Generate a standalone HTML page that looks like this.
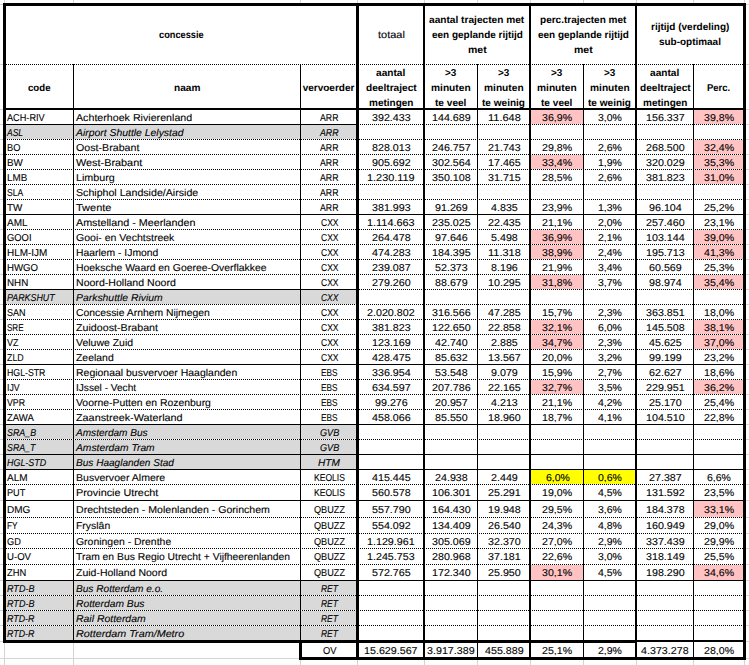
<!DOCTYPE html>
<html><head><meta charset="utf-8"><title>tabel</title>
<style>
html,body{margin:0;padding:0;background:#fff}
#p{position:relative;width:749px;height:665px;overflow:hidden;background:#fff;font-family:"Liberation Sans", sans-serif;color:#000}
#p div{position:absolute}
#p .hd{height:1px;background-image:repeating-linear-gradient(to right,#000 0,#000 1px,transparent 1px,transparent 2px)}
#p span{text-rendering:geometricPrecision;position:absolute;white-space:nowrap;line-height:15px;height:15px;transform-origin:0 50%;display:block}
.r{font-weight:400;-webkit-text-stroke:0.1px #000} .b{font-weight:700} .i{font-style:italic;-webkit-text-stroke:0.1px #000}
</style></head>
<body><div id="p">
<div style="left:4px;top:0px;width:1px;height:3px;background:#D4D4D4"></div>
<div style="left:4px;top:660px;width:1px;height:5px;background:#D4D4D4"></div>
<div style="left:73px;top:0px;width:1px;height:3px;background:#D4D4D4"></div>
<div style="left:73px;top:660px;width:1px;height:5px;background:#D4D4D4"></div>
<div style="left:300px;top:0px;width:1px;height:3px;background:#D4D4D4"></div>
<div style="left:300px;top:660px;width:1px;height:5px;background:#D4D4D4"></div>
<div style="left:357px;top:0px;width:1px;height:3px;background:#D4D4D4"></div>
<div style="left:357px;top:660px;width:1px;height:5px;background:#D4D4D4"></div>
<div style="left:424px;top:0px;width:1px;height:3px;background:#D4D4D4"></div>
<div style="left:424px;top:660px;width:1px;height:5px;background:#D4D4D4"></div>
<div style="left:477px;top:0px;width:1px;height:3px;background:#D4D4D4"></div>
<div style="left:477px;top:660px;width:1px;height:5px;background:#D4D4D4"></div>
<div style="left:530px;top:0px;width:1px;height:3px;background:#D4D4D4"></div>
<div style="left:530px;top:660px;width:1px;height:5px;background:#D4D4D4"></div>
<div style="left:583px;top:0px;width:1px;height:3px;background:#D4D4D4"></div>
<div style="left:583px;top:660px;width:1px;height:5px;background:#D4D4D4"></div>
<div style="left:636px;top:0px;width:1px;height:3px;background:#D4D4D4"></div>
<div style="left:636px;top:660px;width:1px;height:5px;background:#D4D4D4"></div>
<div style="left:693px;top:0px;width:1px;height:3px;background:#D4D4D4"></div>
<div style="left:693px;top:660px;width:1px;height:5px;background:#D4D4D4"></div>
<div style="left:744px;top:0px;width:1px;height:3px;background:#D4D4D4"></div>
<div style="left:744px;top:660px;width:1px;height:5px;background:#D4D4D4"></div>
<div style="left:4px;top:643px;width:1px;height:22px;background:#D4D4D4"></div>
<div style="left:73px;top:643px;width:1px;height:22px;background:#D4D4D4"></div>
<div style="left:0px;top:658px;width:299px;height:1px;background:#D4D4D4"></div>
<div style="left:746px;top:658px;width:3px;height:1px;background:#D4D4D4"></div>
<div style="left:0px;top:4px;width:3px;height:1px;background:#D4D4D4"></div>
<div style="left:746px;top:4px;width:3px;height:1px;background:#D4D4D4"></div>
<div style="left:0px;top:64px;width:3px;height:1px;background:#D4D4D4"></div>
<div style="left:746px;top:64px;width:3px;height:1px;background:#D4D4D4"></div>
<div style="left:0px;top:109px;width:3px;height:1px;background:#D4D4D4"></div>
<div style="left:746px;top:109px;width:3px;height:1px;background:#D4D4D4"></div>
<div style="left:0px;top:124px;width:3px;height:1px;background:#D4D4D4"></div>
<div style="left:746px;top:124px;width:3px;height:1px;background:#D4D4D4"></div>
<div style="left:0px;top:139px;width:3px;height:1px;background:#D4D4D4"></div>
<div style="left:746px;top:139px;width:3px;height:1px;background:#D4D4D4"></div>
<div style="left:0px;top:154px;width:3px;height:1px;background:#D4D4D4"></div>
<div style="left:746px;top:154px;width:3px;height:1px;background:#D4D4D4"></div>
<div style="left:0px;top:169px;width:3px;height:1px;background:#D4D4D4"></div>
<div style="left:746px;top:169px;width:3px;height:1px;background:#D4D4D4"></div>
<div style="left:0px;top:184px;width:3px;height:1px;background:#D4D4D4"></div>
<div style="left:746px;top:184px;width:3px;height:1px;background:#D4D4D4"></div>
<div style="left:0px;top:199px;width:3px;height:1px;background:#D4D4D4"></div>
<div style="left:746px;top:199px;width:3px;height:1px;background:#D4D4D4"></div>
<div style="left:0px;top:214px;width:3px;height:1px;background:#D4D4D4"></div>
<div style="left:746px;top:214px;width:3px;height:1px;background:#D4D4D4"></div>
<div style="left:0px;top:229px;width:3px;height:1px;background:#D4D4D4"></div>
<div style="left:746px;top:229px;width:3px;height:1px;background:#D4D4D4"></div>
<div style="left:0px;top:244px;width:3px;height:1px;background:#D4D4D4"></div>
<div style="left:746px;top:244px;width:3px;height:1px;background:#D4D4D4"></div>
<div style="left:0px;top:259px;width:3px;height:1px;background:#D4D4D4"></div>
<div style="left:746px;top:259px;width:3px;height:1px;background:#D4D4D4"></div>
<div style="left:0px;top:274px;width:3px;height:1px;background:#D4D4D4"></div>
<div style="left:746px;top:274px;width:3px;height:1px;background:#D4D4D4"></div>
<div style="left:0px;top:289px;width:3px;height:1px;background:#D4D4D4"></div>
<div style="left:746px;top:289px;width:3px;height:1px;background:#D4D4D4"></div>
<div style="left:0px;top:304px;width:3px;height:1px;background:#D4D4D4"></div>
<div style="left:746px;top:304px;width:3px;height:1px;background:#D4D4D4"></div>
<div style="left:0px;top:319px;width:3px;height:1px;background:#D4D4D4"></div>
<div style="left:746px;top:319px;width:3px;height:1px;background:#D4D4D4"></div>
<div style="left:0px;top:334px;width:3px;height:1px;background:#D4D4D4"></div>
<div style="left:746px;top:334px;width:3px;height:1px;background:#D4D4D4"></div>
<div style="left:0px;top:349px;width:3px;height:1px;background:#D4D4D4"></div>
<div style="left:746px;top:349px;width:3px;height:1px;background:#D4D4D4"></div>
<div style="left:0px;top:364px;width:3px;height:1px;background:#D4D4D4"></div>
<div style="left:746px;top:364px;width:3px;height:1px;background:#D4D4D4"></div>
<div style="left:0px;top:379px;width:3px;height:1px;background:#D4D4D4"></div>
<div style="left:746px;top:379px;width:3px;height:1px;background:#D4D4D4"></div>
<div style="left:0px;top:394px;width:3px;height:1px;background:#D4D4D4"></div>
<div style="left:746px;top:394px;width:3px;height:1px;background:#D4D4D4"></div>
<div style="left:0px;top:409px;width:3px;height:1px;background:#D4D4D4"></div>
<div style="left:746px;top:409px;width:3px;height:1px;background:#D4D4D4"></div>
<div style="left:0px;top:424px;width:3px;height:1px;background:#D4D4D4"></div>
<div style="left:746px;top:424px;width:3px;height:1px;background:#D4D4D4"></div>
<div style="left:0px;top:439px;width:3px;height:1px;background:#D4D4D4"></div>
<div style="left:746px;top:439px;width:3px;height:1px;background:#D4D4D4"></div>
<div style="left:0px;top:454px;width:3px;height:1px;background:#D4D4D4"></div>
<div style="left:746px;top:454px;width:3px;height:1px;background:#D4D4D4"></div>
<div style="left:0px;top:469px;width:3px;height:1px;background:#D4D4D4"></div>
<div style="left:746px;top:469px;width:3px;height:1px;background:#D4D4D4"></div>
<div style="left:0px;top:484px;width:3px;height:1px;background:#D4D4D4"></div>
<div style="left:746px;top:484px;width:3px;height:1px;background:#D4D4D4"></div>
<div style="left:0px;top:500px;width:3px;height:1px;background:#D4D4D4"></div>
<div style="left:746px;top:500px;width:3px;height:1px;background:#D4D4D4"></div>
<div style="left:0px;top:517px;width:3px;height:1px;background:#D4D4D4"></div>
<div style="left:746px;top:517px;width:3px;height:1px;background:#D4D4D4"></div>
<div style="left:0px;top:533px;width:3px;height:1px;background:#D4D4D4"></div>
<div style="left:746px;top:533px;width:3px;height:1px;background:#D4D4D4"></div>
<div style="left:0px;top:548px;width:3px;height:1px;background:#D4D4D4"></div>
<div style="left:746px;top:548px;width:3px;height:1px;background:#D4D4D4"></div>
<div style="left:0px;top:564px;width:3px;height:1px;background:#D4D4D4"></div>
<div style="left:746px;top:564px;width:3px;height:1px;background:#D4D4D4"></div>
<div style="left:0px;top:580px;width:3px;height:1px;background:#D4D4D4"></div>
<div style="left:746px;top:580px;width:3px;height:1px;background:#D4D4D4"></div>
<div style="left:0px;top:595px;width:3px;height:1px;background:#D4D4D4"></div>
<div style="left:746px;top:595px;width:3px;height:1px;background:#D4D4D4"></div>
<div style="left:0px;top:610px;width:3px;height:1px;background:#D4D4D4"></div>
<div style="left:746px;top:610px;width:3px;height:1px;background:#D4D4D4"></div>
<div style="left:0px;top:625px;width:3px;height:1px;background:#D4D4D4"></div>
<div style="left:746px;top:625px;width:3px;height:1px;background:#D4D4D4"></div>
<div style="left:0px;top:641px;width:3px;height:1px;background:#D4D4D4"></div>
<div style="left:746px;top:641px;width:3px;height:1px;background:#D4D4D4"></div>
<div style="left:531px;top:110px;width:52px;height:14px;background:#FFC3C3"></div>
<div style="left:694px;top:110px;width:49px;height:14px;background:#FFC3C3"></div>
<div style="left:6px;top:125px;width:350px;height:14px;background:#D9D9D9"></div>
<div style="left:694px;top:140px;width:49px;height:14px;background:#FFC3C3"></div>
<div style="left:531px;top:155px;width:52px;height:14px;background:#FFC3C3"></div>
<div style="left:694px;top:155px;width:49px;height:14px;background:#FFC3C3"></div>
<div style="left:694px;top:170px;width:49px;height:14px;background:#FFC3C3"></div>
<div style="left:531px;top:230px;width:52px;height:14px;background:#FFC3C3"></div>
<div style="left:694px;top:230px;width:49px;height:14px;background:#FFC3C3"></div>
<div style="left:531px;top:245px;width:52px;height:14px;background:#FFC3C3"></div>
<div style="left:694px;top:245px;width:49px;height:14px;background:#FFC3C3"></div>
<div style="left:531px;top:275px;width:52px;height:14px;background:#FFC3C3"></div>
<div style="left:694px;top:275px;width:49px;height:14px;background:#FFC3C3"></div>
<div style="left:6px;top:290px;width:350px;height:14px;background:#D9D9D9"></div>
<div style="left:531px;top:320px;width:52px;height:14px;background:#FFC3C3"></div>
<div style="left:694px;top:320px;width:49px;height:14px;background:#FFC3C3"></div>
<div style="left:531px;top:335px;width:52px;height:14px;background:#FFC3C3"></div>
<div style="left:694px;top:335px;width:49px;height:14px;background:#FFC3C3"></div>
<div style="left:531px;top:380px;width:52px;height:14px;background:#FFC3C3"></div>
<div style="left:694px;top:380px;width:49px;height:14px;background:#FFC3C3"></div>
<div style="left:6px;top:425px;width:350px;height:14px;background:#D9D9D9"></div>
<div style="left:6px;top:440px;width:350px;height:14px;background:#D9D9D9"></div>
<div style="left:6px;top:455px;width:350px;height:14px;background:#D9D9D9"></div>
<div style="left:531px;top:470px;width:52px;height:14px;background:#FFFF00"></div>
<div style="left:584px;top:470px;width:51px;height:14px;background:#FFFF00"></div>
<div style="left:694px;top:501px;width:49px;height:16px;background:#FFC3C3"></div>
<div style="left:531px;top:565px;width:52px;height:15px;background:#FFC3C3"></div>
<div style="left:694px;top:565px;width:49px;height:15px;background:#FFC3C3"></div>
<div style="left:6px;top:581px;width:350px;height:14px;background:#D9D9D9"></div>
<div style="left:6px;top:596px;width:350px;height:14px;background:#D9D9D9"></div>
<div style="left:6px;top:611px;width:350px;height:14px;background:#D9D9D9"></div>
<div style="left:6px;top:626px;width:350px;height:14px;background:#D9D9D9"></div>
<div style="left:3px;top:3px;width:743px;height:3px;background:#000"></div>
<div style="left:3px;top:3px;width:3px;height:640px;background:#000"></div>
<div style="left:743px;top:3px;width:3px;height:657px;background:#000"></div>
<div style="left:3px;top:640px;width:634px;height:3px;background:#000"></div>
<div style="left:637px;top:640px;width:106px;height:2px;background:#000"></div>
<div style="left:299px;top:657px;width:447px;height:3px;background:#000"></div>
<div style="left:299px;top:640px;width:3px;height:20px;background:#000"></div>
<div style="left:356px;top:3px;width:3px;height:657px;background:#000"></div>
<div style="left:423px;top:6px;width:2px;height:651px;background:#000"></div>
<div style="left:529px;top:6px;width:2px;height:651px;background:#000"></div>
<div style="left:635px;top:6px;width:2px;height:651px;background:#000"></div>
<div style="left:477px;top:64px;width:1px;height:593px;background:#000"></div>
<div style="left:583px;top:64px;width:1px;height:593px;background:#000"></div>
<div style="left:693px;top:64px;width:1px;height:593px;background:#000"></div>
<div style="left:73px;top:64px;width:1px;height:576px;background:#000"></div>
<div style="left:300px;top:64px;width:1px;height:576px;background:#000"></div>
<div class="hd" style="left:6px;top:64px;width:350px;background-position:0px 0"></div>
<div class="hd" style="left:359px;top:64px;width:384px;background-position:1px 0"></div>
<div style="left:6px;top:108px;width:737px;height:2px;background:#000"></div>
<div style="left:6px;top:124px;width:350px;height:1px;background:#000"></div>
<div class="hd" style="left:359px;top:124px;width:384px;background-position:1px 0"></div>
<div class="hd" style="left:6px;top:139px;width:350px;background-position:1px 0"></div>
<div class="hd" style="left:359px;top:139px;width:384px;background-position:0px 0"></div>
<div class="hd" style="left:6px;top:154px;width:350px;background-position:0px 0"></div>
<div class="hd" style="left:359px;top:154px;width:384px;background-position:1px 0"></div>
<div class="hd" style="left:6px;top:169px;width:350px;background-position:1px 0"></div>
<div class="hd" style="left:359px;top:169px;width:384px;background-position:0px 0"></div>
<div class="hd" style="left:6px;top:184px;width:350px;background-position:0px 0"></div>
<div class="hd" style="left:359px;top:184px;width:384px;background-position:1px 0"></div>
<div class="hd" style="left:6px;top:199px;width:350px;background-position:1px 0"></div>
<div class="hd" style="left:359px;top:199px;width:384px;background-position:0px 0"></div>
<div style="left:6px;top:214px;width:350px;height:1px;background:#000"></div>
<div style="left:359px;top:214px;width:384px;height:1px;background:#000"></div>
<div class="hd" style="left:6px;top:229px;width:350px;background-position:1px 0"></div>
<div class="hd" style="left:359px;top:229px;width:384px;background-position:0px 0"></div>
<div class="hd" style="left:6px;top:244px;width:350px;background-position:0px 0"></div>
<div class="hd" style="left:359px;top:244px;width:384px;background-position:1px 0"></div>
<div class="hd" style="left:6px;top:259px;width:350px;background-position:1px 0"></div>
<div class="hd" style="left:359px;top:259px;width:384px;background-position:0px 0"></div>
<div class="hd" style="left:6px;top:274px;width:350px;background-position:0px 0"></div>
<div class="hd" style="left:359px;top:274px;width:384px;background-position:1px 0"></div>
<div style="left:6px;top:289px;width:350px;height:1px;background:#000"></div>
<div class="hd" style="left:359px;top:289px;width:384px;background-position:0px 0"></div>
<div class="hd" style="left:6px;top:304px;width:350px;background-position:0px 0"></div>
<div class="hd" style="left:359px;top:304px;width:384px;background-position:1px 0"></div>
<div class="hd" style="left:6px;top:319px;width:350px;background-position:1px 0"></div>
<div class="hd" style="left:359px;top:319px;width:384px;background-position:0px 0"></div>
<div class="hd" style="left:6px;top:334px;width:350px;background-position:0px 0"></div>
<div class="hd" style="left:359px;top:334px;width:384px;background-position:1px 0"></div>
<div class="hd" style="left:6px;top:349px;width:350px;background-position:1px 0"></div>
<div class="hd" style="left:359px;top:349px;width:384px;background-position:0px 0"></div>
<div style="left:6px;top:364px;width:350px;height:1px;background:#000"></div>
<div style="left:359px;top:364px;width:384px;height:1px;background:#000"></div>
<div class="hd" style="left:6px;top:379px;width:350px;background-position:1px 0"></div>
<div class="hd" style="left:359px;top:379px;width:384px;background-position:0px 0"></div>
<div class="hd" style="left:6px;top:394px;width:350px;background-position:0px 0"></div>
<div class="hd" style="left:359px;top:394px;width:384px;background-position:1px 0"></div>
<div class="hd" style="left:6px;top:409px;width:350px;background-position:1px 0"></div>
<div class="hd" style="left:359px;top:409px;width:384px;background-position:0px 0"></div>
<div style="left:6px;top:424px;width:350px;height:1px;background:#000"></div>
<div style="left:359px;top:424px;width:384px;height:1px;background:#000"></div>
<div class="hd" style="left:6px;top:439px;width:350px;background-position:1px 0"></div>
<div class="hd" style="left:359px;top:439px;width:384px;background-position:0px 0"></div>
<div style="left:6px;top:454px;width:350px;height:1px;background:#000"></div>
<div style="left:359px;top:454px;width:384px;height:1px;background:#000"></div>
<div style="left:6px;top:469px;width:350px;height:1px;background:#000"></div>
<div style="left:359px;top:469px;width:384px;height:1px;background:#000"></div>
<div class="hd" style="left:6px;top:484px;width:350px;background-position:0px 0"></div>
<div class="hd" style="left:359px;top:484px;width:384px;background-position:1px 0"></div>
<div style="left:6px;top:500px;width:350px;height:1px;background:#000"></div>
<div style="left:359px;top:500px;width:384px;height:1px;background:#000"></div>
<div class="hd" style="left:6px;top:517px;width:350px;background-position:1px 0"></div>
<div class="hd" style="left:359px;top:517px;width:384px;background-position:0px 0"></div>
<div class="hd" style="left:6px;top:533px;width:350px;background-position:1px 0"></div>
<div class="hd" style="left:359px;top:533px;width:384px;background-position:0px 0"></div>
<div class="hd" style="left:6px;top:548px;width:350px;background-position:0px 0"></div>
<div class="hd" style="left:359px;top:548px;width:384px;background-position:1px 0"></div>
<div class="hd" style="left:6px;top:564px;width:350px;background-position:0px 0"></div>
<div class="hd" style="left:359px;top:564px;width:384px;background-position:1px 0"></div>
<div style="left:6px;top:580px;width:350px;height:1px;background:#000"></div>
<div style="left:359px;top:580px;width:384px;height:1px;background:#000"></div>
<div class="hd" style="left:6px;top:595px;width:350px;background-position:1px 0"></div>
<div class="hd" style="left:359px;top:595px;width:384px;background-position:0px 0"></div>
<div class="hd" style="left:6px;top:610px;width:350px;background-position:0px 0"></div>
<div class="hd" style="left:359px;top:610px;width:384px;background-position:1px 0"></div>
<div class="hd" style="left:6px;top:625px;width:350px;background-position:1px 0"></div>
<div class="hd" style="left:359px;top:625px;width:384px;background-position:0px 0"></div>
<span id="t0" class="b" style="left:158.65px;top:28px;font-size:10.0px;transform:scaleX(0.9242)">concessie</span>
<span id="t1" class="r" style="left:377.53px;top:28px;font-size:10.0px;transform:scaleX(1.1010)">totaal</span>
<span id="t2" class="b" style="left:429.40px;top:13px;font-size:10.0px;transform:scaleX(1.0135)">aantal trajecten met</span>
<span id="t3" class="b" style="left:431.53px;top:28px;font-size:10.0px;transform:scaleX(0.9979)">een geplande rijtijd</span>
<span id="t4" class="b" style="left:467.64px;top:43px;font-size:10.0px;transform:scaleX(1.0519)">met</span>
<span id="t5" class="b" style="left:539.77px;top:13px;font-size:10.0px;transform:scaleX(1.0034)">perc.trajecten met</span>
<span id="t6" class="b" style="left:537.53px;top:28px;font-size:10.0px;transform:scaleX(0.9979)">een geplande rijtijd</span>
<span id="t7" class="b" style="left:573.64px;top:43px;font-size:10.0px;transform:scaleX(1.0519)">met</span>
<span id="t8" class="b" style="left:650.81px;top:20px;font-size:10.0px;transform:scaleX(1.0003)">rijtijd (verdeling)</span>
<span id="t9" class="b" style="left:659.04px;top:35px;font-size:10.0px;transform:scaleX(0.9950)">sub-optimaal</span>
<span id="t10" class="b" style="left:28.25px;top:81px;font-size:10.0px;transform:scaleX(0.9639)">code</span>
<span id="t11" class="b" style="left:173.79px;top:81px;font-size:10.0px;transform:scaleX(1.0109)">naam</span>
<span id="t12" class="b" style="left:302.65px;top:81px;font-size:10.0px;transform:scaleX(1.0000)">vervoerder</span>
<span id="t13" class="b" style="left:376.36px;top:66px;font-size:10.0px;transform:scaleX(1.0128)">aantal</span>
<span id="t14" class="b" style="left:365.65px;top:81px;font-size:10.0px;transform:scaleX(1.0134)">deeltraject</span>
<span id="t15" class="b" style="left:368.77px;top:96px;font-size:10.0px;transform:scaleX(1.0004)">metingen</span>
<span id="t16" class="b" style="left:445.32px;top:66px;font-size:10.0px;transform:scaleX(0.9956)">&gt;3</span>
<span id="t17" class="b" style="left:431.19px;top:81px;font-size:10.0px;transform:scaleX(1.0189)">minuten</span>
<span id="t18" class="b" style="left:435.29px;top:96px;font-size:10.0px;transform:scaleX(1.0089)">te veel</span>
<span id="t19" class="b" style="left:497.82px;top:66px;font-size:10.0px;transform:scaleX(0.9956)">&gt;3</span>
<span id="t20" class="b" style="left:483.69px;top:81px;font-size:10.0px;transform:scaleX(1.0189)">minuten</span>
<span id="t21" class="b" style="left:481.99px;top:96px;font-size:10.0px;transform:scaleX(1.0051)">te weinig</span>
<span id="t22" class="b" style="left:551.32px;top:66px;font-size:10.0px;transform:scaleX(0.9956)">&gt;3</span>
<span id="t23" class="b" style="left:537.19px;top:81px;font-size:10.0px;transform:scaleX(1.0189)">minuten</span>
<span id="t24" class="b" style="left:541.29px;top:96px;font-size:10.0px;transform:scaleX(1.0089)">te veel</span>
<span id="t25" class="b" style="left:603.82px;top:66px;font-size:10.0px;transform:scaleX(0.9956)">&gt;3</span>
<span id="t26" class="b" style="left:589.69px;top:81px;font-size:10.0px;transform:scaleX(1.0189)">minuten</span>
<span id="t27" class="b" style="left:587.99px;top:96px;font-size:10.0px;transform:scaleX(1.0051)">te weinig</span>
<span id="t28" class="b" style="left:650.36px;top:66px;font-size:10.0px;transform:scaleX(1.0128)">aantal</span>
<span id="t29" class="b" style="left:639.65px;top:81px;font-size:10.0px;transform:scaleX(1.0134)">deeltraject</span>
<span id="t30" class="b" style="left:642.77px;top:96px;font-size:10.0px;transform:scaleX(1.0004)">metingen</span>
<span id="t31" class="b" style="left:706.94px;top:81px;font-size:10.0px;transform:scaleX(0.9450)">Perc.</span>
<span id="t32" class="r" style="left:7.00px;top:111px;font-size:10.0px;transform:scaleX(0.9166)">ACH-RIV</span>
<span id="t33" class="r" style="left:76.00px;top:111px;font-size:10.0px;transform:scaleX(1.0665)">Achterhoek Rivierenland</span>
<span id="t34" class="r" style="left:320.06px;top:111px;font-size:10.0px;transform:scaleX(0.8746)">ARR</span>
<span id="t35" class="r" style="left:371.65px;top:111px;font-size:10.0px;transform:scaleX(1.0704)">392.433</span>
<span id="t36" class="r" style="left:431.65px;top:111px;font-size:10.0px;transform:scaleX(1.0704)">144.689</span>
<span id="t37" class="r" style="left:488.13px;top:111px;font-size:10.0px;transform:scaleX(1.0972)">11.648</span>
<span id="t38" class="r" style="left:542.47px;top:111px;font-size:10.0px;transform:scaleX(1.0603)">36,9%</span>
<span id="t39" class="r" style="left:598.03px;top:111px;font-size:10.0px;transform:scaleX(1.0499)">3,0%</span>
<span id="t40" class="r" style="left:645.65px;top:111px;font-size:10.0px;transform:scaleX(1.0704)">156.337</span>
<span id="t41" class="r" style="left:703.97px;top:111px;font-size:10.0px;transform:scaleX(1.0603)">39,8%</span>
<span id="t42" class="i" style="left:7.00px;top:126px;font-size:10.0px;transform:scaleX(0.8520)">ASL</span>
<span id="t43" class="i" style="left:76.00px;top:126px;font-size:10.0px;transform:scaleX(1.0397)">Airport Shuttle Lelystad</span>
<span id="t44" class="i" style="left:320.06px;top:126px;font-size:10.0px;transform:scaleX(0.8746)">ARR</span>
<span id="t45" class="r" style="left:7.00px;top:141px;font-size:10.0px;transform:scaleX(0.9263)">BO</span>
<span id="t46" class="r" style="left:76.00px;top:141px;font-size:10.0px;transform:scaleX(1.0658)">Oost-Brabant</span>
<span id="t47" class="r" style="left:320.06px;top:141px;font-size:10.0px;transform:scaleX(0.8746)">ARR</span>
<span id="t48" class="r" style="left:371.65px;top:141px;font-size:10.0px;transform:scaleX(1.0704)">828.013</span>
<span id="t49" class="r" style="left:431.65px;top:141px;font-size:10.0px;transform:scaleX(1.0704)">246.757</span>
<span id="t50" class="r" style="left:488.13px;top:141px;font-size:10.0px;transform:scaleX(1.0703)">21.743</span>
<span id="t51" class="r" style="left:542.47px;top:141px;font-size:10.0px;transform:scaleX(1.0603)">29,8%</span>
<span id="t52" class="r" style="left:598.03px;top:141px;font-size:10.0px;transform:scaleX(1.0499)">2,6%</span>
<span id="t53" class="r" style="left:645.65px;top:141px;font-size:10.0px;transform:scaleX(1.0704)">268.500</span>
<span id="t54" class="r" style="left:703.97px;top:141px;font-size:10.0px;transform:scaleX(1.0603)">32,4%</span>
<span id="t55" class="r" style="left:7.00px;top:156px;font-size:10.0px;transform:scaleX(0.9797)">BW</span>
<span id="t56" class="r" style="left:76.00px;top:156px;font-size:10.0px;transform:scaleX(1.0861)">West-Brabant</span>
<span id="t57" class="r" style="left:320.06px;top:156px;font-size:10.0px;transform:scaleX(0.8746)">ARR</span>
<span id="t58" class="r" style="left:371.65px;top:156px;font-size:10.0px;transform:scaleX(1.0704)">905.692</span>
<span id="t59" class="r" style="left:431.65px;top:156px;font-size:10.0px;transform:scaleX(1.0704)">302.564</span>
<span id="t60" class="r" style="left:488.13px;top:156px;font-size:10.0px;transform:scaleX(1.0703)">17.465</span>
<span id="t61" class="r" style="left:542.47px;top:156px;font-size:10.0px;transform:scaleX(1.0603)">33,4%</span>
<span id="t62" class="r" style="left:598.03px;top:156px;font-size:10.0px;transform:scaleX(1.0499)">1,9%</span>
<span id="t63" class="r" style="left:645.65px;top:156px;font-size:10.0px;transform:scaleX(1.0704)">320.029</span>
<span id="t64" class="r" style="left:703.97px;top:156px;font-size:10.0px;transform:scaleX(1.0603)">35,3%</span>
<span id="t65" class="r" style="left:7.00px;top:171px;font-size:10.0px;transform:scaleX(0.9821)">LMB</span>
<span id="t66" class="r" style="left:76.00px;top:171px;font-size:10.0px;transform:scaleX(1.0736)">Limburg</span>
<span id="t67" class="r" style="left:320.06px;top:171px;font-size:10.0px;transform:scaleX(0.8746)">ARR</span>
<span id="t68" class="r" style="left:367.19px;top:171px;font-size:10.0px;transform:scaleX(1.0886)">1.230.119</span>
<span id="t69" class="r" style="left:431.65px;top:171px;font-size:10.0px;transform:scaleX(1.0704)">350.108</span>
<span id="t70" class="r" style="left:488.13px;top:171px;font-size:10.0px;transform:scaleX(1.0703)">31.715</span>
<span id="t71" class="r" style="left:542.47px;top:171px;font-size:10.0px;transform:scaleX(1.0603)">28,5%</span>
<span id="t72" class="r" style="left:598.03px;top:171px;font-size:10.0px;transform:scaleX(1.0499)">2,6%</span>
<span id="t73" class="r" style="left:645.65px;top:171px;font-size:10.0px;transform:scaleX(1.0704)">381.823</span>
<span id="t74" class="r" style="left:703.97px;top:171px;font-size:10.0px;transform:scaleX(1.0603)">31,0%</span>
<span id="t75" class="r" style="left:7.00px;top:186px;font-size:10.0px;transform:scaleX(0.8564)">SLA</span>
<span id="t76" class="r" style="left:76.00px;top:186px;font-size:10.0px;transform:scaleX(1.0619)">Schiphol Landside/Airside</span>
<span id="t77" class="r" style="left:320.06px;top:186px;font-size:10.0px;transform:scaleX(0.8746)">ARR</span>
<span id="t78" class="r" style="left:7.00px;top:201px;font-size:10.0px;transform:scaleX(0.9832)">TW</span>
<span id="t79" class="r" style="left:76.00px;top:201px;font-size:10.0px;transform:scaleX(1.1008)">Twente</span>
<span id="t80" class="r" style="left:320.06px;top:201px;font-size:10.0px;transform:scaleX(0.8746)">ARR</span>
<span id="t81" class="r" style="left:371.65px;top:201px;font-size:10.0px;transform:scaleX(1.0704)">381.993</span>
<span id="t82" class="r" style="left:434.63px;top:201px;font-size:10.0px;transform:scaleX(1.0703)">91.269</span>
<span id="t83" class="r" style="left:491.11px;top:201px;font-size:10.0px;transform:scaleX(1.0703)">4.835</span>
<span id="t84" class="r" style="left:542.47px;top:201px;font-size:10.0px;transform:scaleX(1.0603)">23,9%</span>
<span id="t85" class="r" style="left:598.03px;top:201px;font-size:10.0px;transform:scaleX(1.0499)">1,3%</span>
<span id="t86" class="r" style="left:648.63px;top:201px;font-size:10.0px;transform:scaleX(1.0703)">96.104</span>
<span id="t87" class="r" style="left:703.97px;top:201px;font-size:10.0px;transform:scaleX(1.0603)">25,2%</span>
<span id="t88" class="r" style="left:7.00px;top:216px;font-size:10.0px;transform:scaleX(1.0009)">AML</span>
<span id="t89" class="r" style="left:76.00px;top:216px;font-size:10.0px;transform:scaleX(1.0749)">Amstelland - Meerlanden</span>
<span id="t90" class="r" style="left:320.58px;top:216px;font-size:10.0px;transform:scaleX(0.8483)">CXX</span>
<span id="t91" class="r" style="left:367.19px;top:216px;font-size:10.0px;transform:scaleX(1.0886)">1.114.663</span>
<span id="t92" class="r" style="left:431.65px;top:216px;font-size:10.0px;transform:scaleX(1.0704)">235.025</span>
<span id="t93" class="r" style="left:488.13px;top:216px;font-size:10.0px;transform:scaleX(1.0703)">22.435</span>
<span id="t94" class="r" style="left:542.47px;top:216px;font-size:10.0px;transform:scaleX(1.0603)">21,1%</span>
<span id="t95" class="r" style="left:598.03px;top:216px;font-size:10.0px;transform:scaleX(1.0499)">2,0%</span>
<span id="t96" class="r" style="left:645.65px;top:216px;font-size:10.0px;transform:scaleX(1.0704)">257.460</span>
<span id="t97" class="r" style="left:703.97px;top:216px;font-size:10.0px;transform:scaleX(1.0603)">23,1%</span>
<span id="t98" class="r" style="left:7.00px;top:231px;font-size:10.0px;transform:scaleX(0.9379)">GOOI</span>
<span id="t99" class="r" style="left:76.00px;top:231px;font-size:10.0px;transform:scaleX(1.0536)">Gooi- en Vechtstreek</span>
<span id="t100" class="r" style="left:320.58px;top:231px;font-size:10.0px;transform:scaleX(0.8483)">CXX</span>
<span id="t101" class="r" style="left:371.65px;top:231px;font-size:10.0px;transform:scaleX(1.0704)">264.478</span>
<span id="t102" class="r" style="left:434.63px;top:231px;font-size:10.0px;transform:scaleX(1.0703)">97.646</span>
<span id="t103" class="r" style="left:491.11px;top:231px;font-size:10.0px;transform:scaleX(1.0703)">5.498</span>
<span id="t104" class="r" style="left:542.47px;top:231px;font-size:10.0px;transform:scaleX(1.0603)">36,9%</span>
<span id="t105" class="r" style="left:598.03px;top:231px;font-size:10.0px;transform:scaleX(1.0499)">2,1%</span>
<span id="t106" class="r" style="left:645.65px;top:231px;font-size:10.0px;transform:scaleX(1.0704)">103.144</span>
<span id="t107" class="r" style="left:703.97px;top:231px;font-size:10.0px;transform:scaleX(1.0603)">39,0%</span>
<span id="t108" class="r" style="left:7.00px;top:246px;font-size:10.0px;transform:scaleX(0.9935)">HLM-IJM</span>
<span id="t109" class="r" style="left:76.00px;top:246px;font-size:10.0px;transform:scaleX(1.0356)">Haarlem - IJmond</span>
<span id="t110" class="r" style="left:320.58px;top:246px;font-size:10.0px;transform:scaleX(0.8483)">CXX</span>
<span id="t111" class="r" style="left:371.65px;top:246px;font-size:10.0px;transform:scaleX(1.0704)">474.283</span>
<span id="t112" class="r" style="left:431.65px;top:246px;font-size:10.0px;transform:scaleX(1.0704)">184.395</span>
<span id="t113" class="r" style="left:488.13px;top:246px;font-size:10.0px;transform:scaleX(1.0972)">11.318</span>
<span id="t114" class="r" style="left:542.47px;top:246px;font-size:10.0px;transform:scaleX(1.0603)">38,9%</span>
<span id="t115" class="r" style="left:598.03px;top:246px;font-size:10.0px;transform:scaleX(1.0499)">2,4%</span>
<span id="t116" class="r" style="left:645.65px;top:246px;font-size:10.0px;transform:scaleX(1.0704)">195.713</span>
<span id="t117" class="r" style="left:703.97px;top:246px;font-size:10.0px;transform:scaleX(1.0603)">41,3%</span>
<span id="t118" class="r" style="left:7.00px;top:261px;font-size:10.0px;transform:scaleX(0.9630)">HWGO</span>
<span id="t119" class="r" style="left:76.00px;top:261px;font-size:10.0px;transform:scaleX(1.0407)">Hoeksche Waard en Goeree-Overflakkee</span>
<span id="t120" class="r" style="left:320.58px;top:261px;font-size:10.0px;transform:scaleX(0.8483)">CXX</span>
<span id="t121" class="r" style="left:371.65px;top:261px;font-size:10.0px;transform:scaleX(1.0704)">239.087</span>
<span id="t122" class="r" style="left:434.63px;top:261px;font-size:10.0px;transform:scaleX(1.0703)">52.373</span>
<span id="t123" class="r" style="left:491.11px;top:261px;font-size:10.0px;transform:scaleX(1.0703)">8.196</span>
<span id="t124" class="r" style="left:542.47px;top:261px;font-size:10.0px;transform:scaleX(1.0603)">21,9%</span>
<span id="t125" class="r" style="left:598.03px;top:261px;font-size:10.0px;transform:scaleX(1.0499)">3,4%</span>
<span id="t126" class="r" style="left:648.63px;top:261px;font-size:10.0px;transform:scaleX(1.0703)">60.569</span>
<span id="t127" class="r" style="left:703.97px;top:261px;font-size:10.0px;transform:scaleX(1.0603)">25,3%</span>
<span id="t128" class="r" style="left:7.00px;top:276px;font-size:10.0px;transform:scaleX(0.9804)">NHN</span>
<span id="t129" class="r" style="left:76.00px;top:276px;font-size:10.0px;transform:scaleX(1.0561)">Noord-Holland Noord</span>
<span id="t130" class="r" style="left:320.58px;top:276px;font-size:10.0px;transform:scaleX(0.8483)">CXX</span>
<span id="t131" class="r" style="left:371.65px;top:276px;font-size:10.0px;transform:scaleX(1.0704)">279.260</span>
<span id="t132" class="r" style="left:434.63px;top:276px;font-size:10.0px;transform:scaleX(1.0703)">88.679</span>
<span id="t133" class="r" style="left:488.13px;top:276px;font-size:10.0px;transform:scaleX(1.0703)">10.295</span>
<span id="t134" class="r" style="left:542.47px;top:276px;font-size:10.0px;transform:scaleX(1.0603)">31,8%</span>
<span id="t135" class="r" style="left:598.03px;top:276px;font-size:10.0px;transform:scaleX(1.0499)">3,7%</span>
<span id="t136" class="r" style="left:648.63px;top:276px;font-size:10.0px;transform:scaleX(1.0703)">98.974</span>
<span id="t137" class="r" style="left:703.97px;top:276px;font-size:10.0px;transform:scaleX(1.0603)">35,4%</span>
<span id="t138" class="i" style="left:7.00px;top:291px;font-size:10.0px;transform:scaleX(0.8864)">PARKSHUT</span>
<span id="t139" class="i" style="left:76.00px;top:291px;font-size:10.0px;transform:scaleX(1.0401)">Parkshuttle Rivium</span>
<span id="t140" class="i" style="left:320.64px;top:291px;font-size:10.0px;transform:scaleX(0.8425)">CXX</span>
<span id="t141" class="r" style="left:7.00px;top:306px;font-size:10.0px;transform:scaleX(0.9049)">SAN</span>
<span id="t142" class="r" style="left:76.00px;top:306px;font-size:10.0px;transform:scaleX(1.0376)">Concessie Arnhem Nijmegen</span>
<span id="t143" class="r" style="left:320.58px;top:306px;font-size:10.0px;transform:scaleX(0.8483)">CXX</span>
<span id="t144" class="r" style="left:367.19px;top:306px;font-size:10.0px;transform:scaleX(1.0702)">2.020.802</span>
<span id="t145" class="r" style="left:431.65px;top:306px;font-size:10.0px;transform:scaleX(1.0704)">316.566</span>
<span id="t146" class="r" style="left:488.13px;top:306px;font-size:10.0px;transform:scaleX(1.0703)">47.285</span>
<span id="t147" class="r" style="left:542.47px;top:306px;font-size:10.0px;transform:scaleX(1.0603)">15,7%</span>
<span id="t148" class="r" style="left:598.03px;top:306px;font-size:10.0px;transform:scaleX(1.0499)">2,3%</span>
<span id="t149" class="r" style="left:645.65px;top:306px;font-size:10.0px;transform:scaleX(1.0704)">363.851</span>
<span id="t150" class="r" style="left:703.97px;top:306px;font-size:10.0px;transform:scaleX(1.0603)">18,0%</span>
<span id="t151" class="r" style="left:7.00px;top:321px;font-size:10.0px;transform:scaleX(0.8047)">SRE</span>
<span id="t152" class="r" style="left:76.00px;top:321px;font-size:10.0px;transform:scaleX(1.0688)">Zuidoost-Brabant</span>
<span id="t153" class="r" style="left:320.58px;top:321px;font-size:10.0px;transform:scaleX(0.8483)">CXX</span>
<span id="t154" class="r" style="left:371.65px;top:321px;font-size:10.0px;transform:scaleX(1.0704)">381.823</span>
<span id="t155" class="r" style="left:431.65px;top:321px;font-size:10.0px;transform:scaleX(1.0704)">122.650</span>
<span id="t156" class="r" style="left:488.13px;top:321px;font-size:10.0px;transform:scaleX(1.0703)">22.858</span>
<span id="t157" class="r" style="left:542.47px;top:321px;font-size:10.0px;transform:scaleX(1.0603)">32,1%</span>
<span id="t158" class="r" style="left:598.03px;top:321px;font-size:10.0px;transform:scaleX(1.0499)">6,0%</span>
<span id="t159" class="r" style="left:645.65px;top:321px;font-size:10.0px;transform:scaleX(1.0704)">145.508</span>
<span id="t160" class="r" style="left:703.97px;top:321px;font-size:10.0px;transform:scaleX(1.0603)">38,1%</span>
<span id="t161" class="r" style="left:7.00px;top:336px;font-size:10.0px;transform:scaleX(0.8994)">VZ</span>
<span id="t162" class="r" style="left:76.00px;top:336px;font-size:10.0px;transform:scaleX(1.0480)">Veluwe Zuid</span>
<span id="t163" class="r" style="left:320.58px;top:336px;font-size:10.0px;transform:scaleX(0.8483)">CXX</span>
<span id="t164" class="r" style="left:371.65px;top:336px;font-size:10.0px;transform:scaleX(1.0704)">123.169</span>
<span id="t165" class="r" style="left:434.63px;top:336px;font-size:10.0px;transform:scaleX(1.0703)">42.740</span>
<span id="t166" class="r" style="left:491.11px;top:336px;font-size:10.0px;transform:scaleX(1.0703)">2.885</span>
<span id="t167" class="r" style="left:542.47px;top:336px;font-size:10.0px;transform:scaleX(1.0603)">34,7%</span>
<span id="t168" class="r" style="left:598.03px;top:336px;font-size:10.0px;transform:scaleX(1.0499)">2,3%</span>
<span id="t169" class="r" style="left:648.63px;top:336px;font-size:10.0px;transform:scaleX(1.0703)">45.625</span>
<span id="t170" class="r" style="left:703.97px;top:336px;font-size:10.0px;transform:scaleX(1.0603)">37,0%</span>
<span id="t171" class="r" style="left:7.00px;top:351px;font-size:10.0px;transform:scaleX(0.8830)">ZLD</span>
<span id="t172" class="r" style="left:76.00px;top:351px;font-size:10.0px;transform:scaleX(1.0431)">Zeeland</span>
<span id="t173" class="r" style="left:320.58px;top:351px;font-size:10.0px;transform:scaleX(0.8483)">CXX</span>
<span id="t174" class="r" style="left:371.65px;top:351px;font-size:10.0px;transform:scaleX(1.0704)">428.475</span>
<span id="t175" class="r" style="left:434.63px;top:351px;font-size:10.0px;transform:scaleX(1.0703)">85.632</span>
<span id="t176" class="r" style="left:488.13px;top:351px;font-size:10.0px;transform:scaleX(1.0703)">13.567</span>
<span id="t177" class="r" style="left:542.47px;top:351px;font-size:10.0px;transform:scaleX(1.0603)">20,0%</span>
<span id="t178" class="r" style="left:598.03px;top:351px;font-size:10.0px;transform:scaleX(1.0499)">3,2%</span>
<span id="t179" class="r" style="left:648.63px;top:351px;font-size:10.0px;transform:scaleX(1.0703)">99.199</span>
<span id="t180" class="r" style="left:703.97px;top:351px;font-size:10.0px;transform:scaleX(1.0603)">23,2%</span>
<span id="t181" class="r" style="left:7.00px;top:366px;font-size:10.0px;transform:scaleX(0.8756)">HGL-STR</span>
<span id="t182" class="r" style="left:76.00px;top:366px;font-size:10.0px;transform:scaleX(1.0468)">Regionaal busvervoer Haaglanden</span>
<span id="t183" class="r" style="left:321.02px;top:366px;font-size:10.0px;transform:scaleX(0.8273)">EBS</span>
<span id="t184" class="r" style="left:371.65px;top:366px;font-size:10.0px;transform:scaleX(1.0704)">336.954</span>
<span id="t185" class="r" style="left:434.63px;top:366px;font-size:10.0px;transform:scaleX(1.0703)">53.548</span>
<span id="t186" class="r" style="left:491.11px;top:366px;font-size:10.0px;transform:scaleX(1.0703)">9.079</span>
<span id="t187" class="r" style="left:542.47px;top:366px;font-size:10.0px;transform:scaleX(1.0603)">15,9%</span>
<span id="t188" class="r" style="left:598.03px;top:366px;font-size:10.0px;transform:scaleX(1.0499)">2,7%</span>
<span id="t189" class="r" style="left:648.63px;top:366px;font-size:10.0px;transform:scaleX(1.0703)">62.627</span>
<span id="t190" class="r" style="left:703.97px;top:366px;font-size:10.0px;transform:scaleX(1.0603)">18,6%</span>
<span id="t191" class="r" style="left:7.00px;top:381px;font-size:10.0px;transform:scaleX(0.8742)">IJV</span>
<span id="t192" class="r" style="left:76.00px;top:381px;font-size:10.0px;transform:scaleX(1.0106)">IJssel - Vecht</span>
<span id="t193" class="r" style="left:321.02px;top:381px;font-size:10.0px;transform:scaleX(0.8273)">EBS</span>
<span id="t194" class="r" style="left:371.65px;top:381px;font-size:10.0px;transform:scaleX(1.0704)">634.597</span>
<span id="t195" class="r" style="left:431.65px;top:381px;font-size:10.0px;transform:scaleX(1.0704)">207.786</span>
<span id="t196" class="r" style="left:488.13px;top:381px;font-size:10.0px;transform:scaleX(1.0703)">22.165</span>
<span id="t197" class="r" style="left:542.47px;top:381px;font-size:10.0px;transform:scaleX(1.0603)">32,7%</span>
<span id="t198" class="r" style="left:598.03px;top:381px;font-size:10.0px;transform:scaleX(1.0499)">3,5%</span>
<span id="t199" class="r" style="left:645.65px;top:381px;font-size:10.0px;transform:scaleX(1.0704)">229.951</span>
<span id="t200" class="r" style="left:703.97px;top:381px;font-size:10.0px;transform:scaleX(1.0603)">36,2%</span>
<span id="t201" class="r" style="left:7.00px;top:396px;font-size:10.0px;transform:scaleX(0.8782)">VPR</span>
<span id="t202" class="r" style="left:76.00px;top:396px;font-size:10.0px;transform:scaleX(1.0413)">Voorne-Putten en Rozenburg</span>
<span id="t203" class="r" style="left:321.02px;top:396px;font-size:10.0px;transform:scaleX(0.8273)">EBS</span>
<span id="t204" class="r" style="left:374.63px;top:396px;font-size:10.0px;transform:scaleX(1.0703)">99.276</span>
<span id="t205" class="r" style="left:434.63px;top:396px;font-size:10.0px;transform:scaleX(1.0703)">20.957</span>
<span id="t206" class="r" style="left:491.11px;top:396px;font-size:10.0px;transform:scaleX(1.0703)">4.213</span>
<span id="t207" class="r" style="left:542.47px;top:396px;font-size:10.0px;transform:scaleX(1.0603)">21,1%</span>
<span id="t208" class="r" style="left:598.03px;top:396px;font-size:10.0px;transform:scaleX(1.0499)">4,2%</span>
<span id="t209" class="r" style="left:648.63px;top:396px;font-size:10.0px;transform:scaleX(1.0703)">25.170</span>
<span id="t210" class="r" style="left:703.97px;top:396px;font-size:10.0px;transform:scaleX(1.0603)">25,4%</span>
<span id="t211" class="r" style="left:7.00px;top:411px;font-size:10.0px;transform:scaleX(0.9561)">ZAWA</span>
<span id="t212" class="r" style="left:76.00px;top:411px;font-size:10.0px;transform:scaleX(1.0815)">Zaanstreek-Waterland</span>
<span id="t213" class="r" style="left:321.02px;top:411px;font-size:10.0px;transform:scaleX(0.8273)">EBS</span>
<span id="t214" class="r" style="left:371.65px;top:411px;font-size:10.0px;transform:scaleX(1.0704)">458.066</span>
<span id="t215" class="r" style="left:434.63px;top:411px;font-size:10.0px;transform:scaleX(1.0703)">85.550</span>
<span id="t216" class="r" style="left:488.13px;top:411px;font-size:10.0px;transform:scaleX(1.0703)">18.960</span>
<span id="t217" class="r" style="left:542.47px;top:411px;font-size:10.0px;transform:scaleX(1.0603)">18,7%</span>
<span id="t218" class="r" style="left:598.03px;top:411px;font-size:10.0px;transform:scaleX(1.0499)">4,1%</span>
<span id="t219" class="r" style="left:645.65px;top:411px;font-size:10.0px;transform:scaleX(1.0704)">104.510</span>
<span id="t220" class="r" style="left:703.97px;top:411px;font-size:10.0px;transform:scaleX(1.0603)">22,8%</span>
<span id="t221" class="i" style="left:7.00px;top:426px;font-size:10.0px;transform:scaleX(0.8853)">SRA_B</span>
<span id="t222" class="i" style="left:76.00px;top:426px;font-size:10.0px;transform:scaleX(1.0065)">Amsterdam Bus</span>
<span id="t223" class="i" style="left:319.66px;top:426px;font-size:10.0px;transform:scaleX(0.9126)">GVB</span>
<span id="t224" class="i" style="left:7.00px;top:441px;font-size:10.0px;transform:scaleX(0.8813)">SRA_T</span>
<span id="t225" class="i" style="left:76.00px;top:441px;font-size:10.0px;transform:scaleX(1.0288)">Amsterdam Tram</span>
<span id="t226" class="i" style="left:319.66px;top:441px;font-size:10.0px;transform:scaleX(0.9126)">GVB</span>
<span id="t227" class="i" style="left:7.00px;top:456px;font-size:10.0px;transform:scaleX(0.8921)">HGL-STD</span>
<span id="t228" class="i" style="left:76.00px;top:456px;font-size:10.0px;transform:scaleX(1.0062)">Bus Haaglanden Stad</span>
<span id="t229" class="i" style="left:318.39px;top:456px;font-size:10.0px;transform:scaleX(1.0067)">HTM</span>
<span id="t230" class="r" style="left:7.00px;top:471px;font-size:10.0px;transform:scaleX(1.0009)">ALM</span>
<span id="t231" class="r" style="left:76.00px;top:471px;font-size:10.0px;transform:scaleX(1.0558)">Busvervoer Almere</span>
<span id="t232" class="r" style="left:313.84px;top:471px;font-size:10.0px;transform:scaleX(0.8558)">KEOLIS</span>
<span id="t233" class="r" style="left:371.65px;top:471px;font-size:10.0px;transform:scaleX(1.0704)">415.445</span>
<span id="t234" class="r" style="left:434.63px;top:471px;font-size:10.0px;transform:scaleX(1.0703)">24.938</span>
<span id="t235" class="r" style="left:491.11px;top:471px;font-size:10.0px;transform:scaleX(1.0703)">2.449</span>
<span id="t236" class="r" style="left:545.53px;top:471px;font-size:10.0px;transform:scaleX(1.0499)">6,0%</span>
<span id="t237" class="r" style="left:598.03px;top:471px;font-size:10.0px;transform:scaleX(1.0499)">0,6%</span>
<span id="t238" class="r" style="left:648.63px;top:471px;font-size:10.0px;transform:scaleX(1.0703)">27.387</span>
<span id="t239" class="r" style="left:707.03px;top:471px;font-size:10.0px;transform:scaleX(1.0499)">6,6%</span>
<span id="t240" class="r" style="left:7.00px;top:486px;font-size:10.0px;transform:scaleX(0.9132)">PUT</span>
<span id="t241" class="r" style="left:76.00px;top:486px;font-size:10.0px;transform:scaleX(1.0809)">Provincie Utrecht</span>
<span id="t242" class="r" style="left:313.84px;top:486px;font-size:10.0px;transform:scaleX(0.8558)">KEOLIS</span>
<span id="t243" class="r" style="left:371.65px;top:486px;font-size:10.0px;transform:scaleX(1.0704)">560.578</span>
<span id="t244" class="r" style="left:431.65px;top:486px;font-size:10.0px;transform:scaleX(1.0704)">106.301</span>
<span id="t245" class="r" style="left:488.13px;top:486px;font-size:10.0px;transform:scaleX(1.0703)">25.291</span>
<span id="t246" class="r" style="left:542.47px;top:486px;font-size:10.0px;transform:scaleX(1.0603)">19,0%</span>
<span id="t247" class="r" style="left:598.03px;top:486px;font-size:10.0px;transform:scaleX(1.0499)">4,5%</span>
<span id="t248" class="r" style="left:645.65px;top:486px;font-size:10.0px;transform:scaleX(1.0704)">131.592</span>
<span id="t249" class="r" style="left:703.97px;top:486px;font-size:10.0px;transform:scaleX(1.0603)">23,5%</span>
<span id="t250" class="r" style="left:7.00px;top:503px;font-size:10.0px;transform:scaleX(0.9991)">DMG</span>
<span id="t251" class="r" style="left:76.00px;top:503px;font-size:10.0px;transform:scaleX(1.0570)">Drechtsteden - Molenlanden - Gorinchem</span>
<span id="t252" class="r" style="left:313.79px;top:503px;font-size:10.0px;transform:scaleX(0.9154)">QBUZZ</span>
<span id="t253" class="r" style="left:371.65px;top:503px;font-size:10.0px;transform:scaleX(1.0704)">557.790</span>
<span id="t254" class="r" style="left:431.65px;top:503px;font-size:10.0px;transform:scaleX(1.0704)">164.430</span>
<span id="t255" class="r" style="left:488.13px;top:503px;font-size:10.0px;transform:scaleX(1.0703)">19.948</span>
<span id="t256" class="r" style="left:542.47px;top:503px;font-size:10.0px;transform:scaleX(1.0603)">29,5%</span>
<span id="t257" class="r" style="left:598.03px;top:503px;font-size:10.0px;transform:scaleX(1.0499)">3,6%</span>
<span id="t258" class="r" style="left:645.65px;top:503px;font-size:10.0px;transform:scaleX(1.0704)">184.378</span>
<span id="t259" class="r" style="left:703.97px;top:503px;font-size:10.0px;transform:scaleX(1.0603)">33,1%</span>
<span id="t260" class="r" style="left:7.00px;top:519px;font-size:10.0px;transform:scaleX(0.8223)">FY</span>
<span id="t261" class="r" style="left:76.00px;top:519px;font-size:10.0px;transform:scaleX(1.0428)">Fryslân</span>
<span id="t262" class="r" style="left:313.79px;top:519px;font-size:10.0px;transform:scaleX(0.9154)">QBUZZ</span>
<span id="t263" class="r" style="left:371.65px;top:519px;font-size:10.0px;transform:scaleX(1.0704)">554.092</span>
<span id="t264" class="r" style="left:431.65px;top:519px;font-size:10.0px;transform:scaleX(1.0704)">134.409</span>
<span id="t265" class="r" style="left:488.13px;top:519px;font-size:10.0px;transform:scaleX(1.0703)">26.540</span>
<span id="t266" class="r" style="left:542.47px;top:519px;font-size:10.0px;transform:scaleX(1.0603)">24,3%</span>
<span id="t267" class="r" style="left:598.03px;top:519px;font-size:10.0px;transform:scaleX(1.0499)">4,8%</span>
<span id="t268" class="r" style="left:645.65px;top:519px;font-size:10.0px;transform:scaleX(1.0704)">160.949</span>
<span id="t269" class="r" style="left:703.97px;top:519px;font-size:10.0px;transform:scaleX(1.0603)">29,0%</span>
<span id="t270" class="r" style="left:7.00px;top:535px;font-size:10.0px;transform:scaleX(0.9222)">GD</span>
<span id="t271" class="r" style="left:76.00px;top:535px;font-size:10.0px;transform:scaleX(1.0442)">Groningen - Drenthe</span>
<span id="t272" class="r" style="left:313.79px;top:535px;font-size:10.0px;transform:scaleX(0.9154)">QBUZZ</span>
<span id="t273" class="r" style="left:367.19px;top:535px;font-size:10.0px;transform:scaleX(1.0702)">1.129.961</span>
<span id="t274" class="r" style="left:431.65px;top:535px;font-size:10.0px;transform:scaleX(1.0704)">305.069</span>
<span id="t275" class="r" style="left:488.13px;top:535px;font-size:10.0px;transform:scaleX(1.0703)">32.370</span>
<span id="t276" class="r" style="left:542.47px;top:535px;font-size:10.0px;transform:scaleX(1.0603)">27,0%</span>
<span id="t277" class="r" style="left:598.03px;top:535px;font-size:10.0px;transform:scaleX(1.0499)">2,9%</span>
<span id="t278" class="r" style="left:645.65px;top:535px;font-size:10.0px;transform:scaleX(1.0704)">337.439</span>
<span id="t279" class="r" style="left:703.97px;top:535px;font-size:10.0px;transform:scaleX(1.0603)">29,9%</span>
<span id="t280" class="r" style="left:7.00px;top:550px;font-size:10.0px;transform:scaleX(0.9613)">U-OV</span>
<span id="t281" class="r" style="left:76.00px;top:550px;font-size:10.0px;transform:scaleX(1.0340)">Tram en Bus Regio Utrecht + Vijfheerenlanden</span>
<span id="t282" class="r" style="left:313.79px;top:550px;font-size:10.0px;transform:scaleX(0.9154)">QBUZZ</span>
<span id="t283" class="r" style="left:367.19px;top:550px;font-size:10.0px;transform:scaleX(1.0702)">1.245.753</span>
<span id="t284" class="r" style="left:431.65px;top:550px;font-size:10.0px;transform:scaleX(1.0704)">280.968</span>
<span id="t285" class="r" style="left:488.13px;top:550px;font-size:10.0px;transform:scaleX(1.0703)">37.181</span>
<span id="t286" class="r" style="left:542.47px;top:550px;font-size:10.0px;transform:scaleX(1.0603)">22,6%</span>
<span id="t287" class="r" style="left:598.03px;top:550px;font-size:10.0px;transform:scaleX(1.0499)">3,0%</span>
<span id="t288" class="r" style="left:645.65px;top:550px;font-size:10.0px;transform:scaleX(1.0704)">318.149</span>
<span id="t289" class="r" style="left:703.97px;top:550px;font-size:10.0px;transform:scaleX(1.0603)">25,5%</span>
<span id="t290" class="r" style="left:7.00px;top:566px;font-size:10.0px;transform:scaleX(0.9376)">ZHN</span>
<span id="t291" class="r" style="left:76.00px;top:566px;font-size:10.0px;transform:scaleX(1.0494)">Zuid-Holland Noord</span>
<span id="t292" class="r" style="left:313.79px;top:566px;font-size:10.0px;transform:scaleX(0.9154)">QBUZZ</span>
<span id="t293" class="r" style="left:371.65px;top:566px;font-size:10.0px;transform:scaleX(1.0704)">572.765</span>
<span id="t294" class="r" style="left:431.65px;top:566px;font-size:10.0px;transform:scaleX(1.0704)">172.340</span>
<span id="t295" class="r" style="left:488.13px;top:566px;font-size:10.0px;transform:scaleX(1.0703)">25.950</span>
<span id="t296" class="r" style="left:542.47px;top:566px;font-size:10.0px;transform:scaleX(1.0603)">30,1%</span>
<span id="t297" class="r" style="left:598.03px;top:566px;font-size:10.0px;transform:scaleX(1.0499)">4,5%</span>
<span id="t298" class="r" style="left:645.65px;top:566px;font-size:10.0px;transform:scaleX(1.0704)">198.290</span>
<span id="t299" class="r" style="left:703.97px;top:566px;font-size:10.0px;transform:scaleX(1.0603)">34,6%</span>
<span id="t300" class="i" style="left:7.00px;top:582px;font-size:10.0px;transform:scaleX(0.9031)">RTD-B</span>
<span id="t301" class="i" style="left:76.00px;top:582px;font-size:10.0px;transform:scaleX(1.0110)">Bus Rotterdam e.o.</span>
<span id="t302" class="i" style="left:320.87px;top:582px;font-size:10.0px;transform:scaleX(0.8428)">RET</span>
<span id="t303" class="i" style="left:7.00px;top:597px;font-size:10.0px;transform:scaleX(0.9031)">RTD-B</span>
<span id="t304" class="i" style="left:76.00px;top:597px;font-size:10.0px;transform:scaleX(1.0269)">Rotterdam Bus</span>
<span id="t305" class="i" style="left:320.87px;top:597px;font-size:10.0px;transform:scaleX(0.8428)">RET</span>
<span id="t306" class="i" style="left:7.00px;top:612px;font-size:10.0px;transform:scaleX(0.8863)">RTD-R</span>
<span id="t307" class="i" style="left:76.00px;top:612px;font-size:10.0px;transform:scaleX(1.0449)">Rail Rotterdam</span>
<span id="t308" class="i" style="left:320.87px;top:612px;font-size:10.0px;transform:scaleX(0.8428)">RET</span>
<span id="t309" class="i" style="left:7.00px;top:627px;font-size:10.0px;transform:scaleX(0.8863)">RTD-R</span>
<span id="t310" class="i" style="left:76.00px;top:627px;font-size:10.0px;transform:scaleX(1.0778)">Rotterdam Tram/Metro</span>
<span id="t311" class="i" style="left:320.87px;top:627px;font-size:10.0px;transform:scaleX(0.8428)">RET</span>
<span id="t312" class="r" style="left:322.54px;top:644px;font-size:10.0px;transform:scaleX(0.9349)">OV</span>
<span id="t313" class="r" style="left:364.21px;top:644px;font-size:10.0px;transform:scaleX(1.0703)">15.629.567</span>
<span id="t314" class="r" style="left:427.19px;top:644px;font-size:10.0px;transform:scaleX(1.0702)">3.917.389</span>
<span id="t315" class="r" style="left:485.15px;top:644px;font-size:10.0px;transform:scaleX(1.0704)">455.889</span>
<span id="t316" class="r" style="left:542.47px;top:644px;font-size:10.0px;transform:scaleX(1.0603)">25,1%</span>
<span id="t317" class="r" style="left:598.03px;top:644px;font-size:10.0px;transform:scaleX(1.0499)">2,9%</span>
<span id="t318" class="r" style="left:641.19px;top:644px;font-size:10.0px;transform:scaleX(1.0702)">4.373.278</span>
<span id="t319" class="r" style="left:703.97px;top:644px;font-size:10.0px;transform:scaleX(1.0603)">28,0%</span>
</div></body></html>
